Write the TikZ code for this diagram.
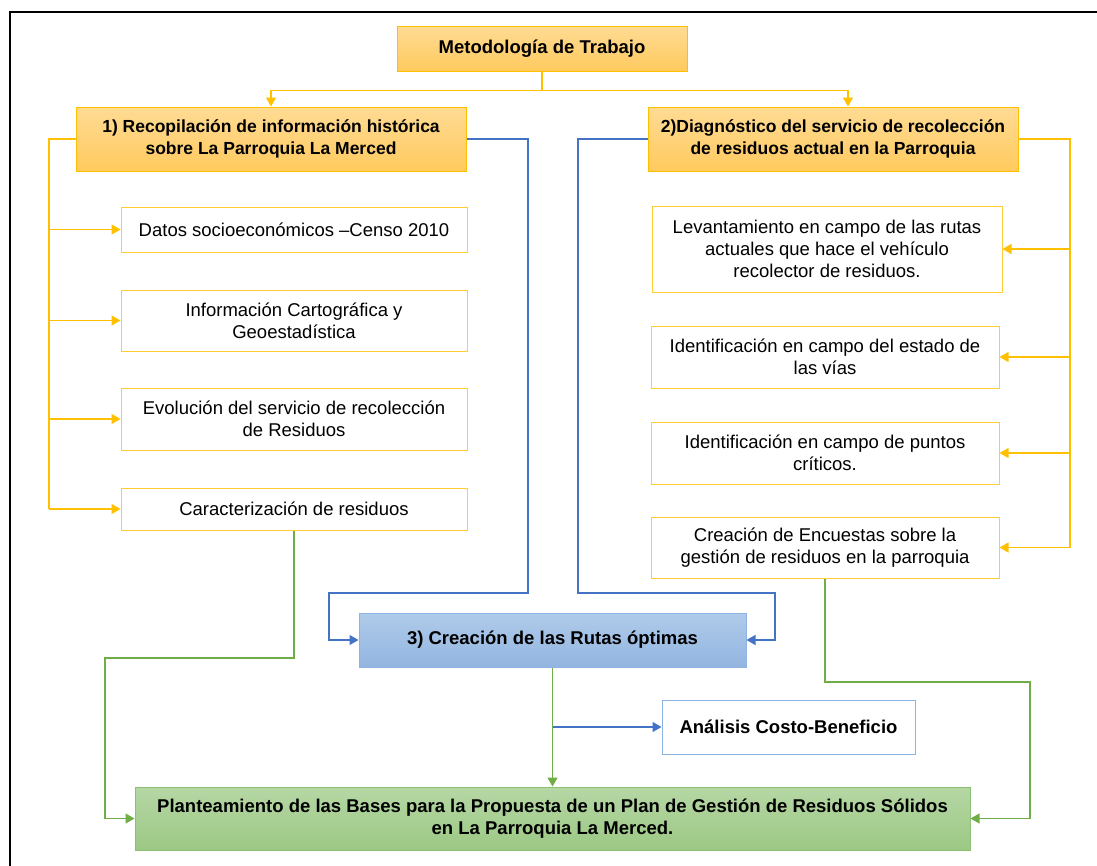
\documentclass[tikz,border=0pt]{standalone}
\usepackage{fontspec}
\setmainfont{Liberation Sans}
\usepackage{tikz}
\usetikzlibrary{arrows.meta, positioning}
\usepackage{xcolor}

\definecolor{ambar}{HTML}{FFC000}
\definecolor{ambartop}{HTML}{FFDB94}
\definecolor{ambarbot}{HTML}{FFCA5E}
\definecolor{azul}{HTML}{4472C4}
\definecolor{azulborde}{HTML}{8DB3E2}
\definecolor{azultop}{HTML}{B0CBEA}
\definecolor{azulbot}{HTML}{92B5E0}
\definecolor{verde}{HTML}{70AD47}
\definecolor{verdeborde}{HTML}{8CC175}
\definecolor{verdetop}{HTML}{B6D7A5}
\definecolor{verdebot}{HTML}{9CC884}

\newcommand{\boxfont}{\fontsize{18.5}{22}\selectfont}
\newcommand{\phasefont}{\fontsize{17.5}{22}\selectfont}

\begin{document}
\begin{tikzpicture}[
  x=1pt, y=-1pt,
  head/.style={rectangle, draw=ambar, line width=1pt, top color=ambartop, bottom color=ambarbot, inner sep=0pt, align=center, font=\boxfont\bfseries},
  phase/.style={head, font=\phasefont\bfseries},
  task/.style={rectangle, draw=ambar!80, line width=1pt, fill=white, inner sep=0pt, align=center, font=\boxfont},
  routes/.style={rectangle, draw=azulborde, line width=1pt, top color=azultop, bottom color=azulbot, inner sep=0pt, align=center, font=\boxfont\bfseries},
  result/.style={rectangle, draw=azulborde, line width=1pt, fill=white, inner sep=0pt, align=center, font=\boxfont\bfseries},
  finalbox/.style={rectangle, draw=verdeborde, line width=1pt, top color=verdetop, bottom color=verdebot, inner sep=0pt, align=center, font=\boxfont\bfseries},
  yline/.style={draw=ambar, line width=1.2pt},
  yarrow/.style={yline, -{Triangle[length=9pt,width=10pt]}},
  barrow/.style={draw=azul, line width=1.2pt, -{Triangle[length=9pt,width=10pt]}},
  garrow/.style={draw=verde, line width=1.2pt, -{Triangle[length=9pt,width=10pt]}}
]
\useasboundingbox (0,0) rectangle (1097,865);

% Frame
\draw[line width=2pt] (10,870) -- (10,12) -- (1100,12);

% Top layer - Methodology
\node[head, minimum width=290pt, minimum height=45pt] (meto) at (542,48.5) {Metodología de Trabajo};

% Second layer - Phases 1 and 2
\node[phase, minimum width=390pt, minimum height=64pt] (recop) at (271,139) {1) Recopilación de información histórica\\sobre La Parroquia La Merced};
\node[phase, minimum width=370pt, minimum height=64pt] (diag) at (833,139) {2)Diagnóstico del servicio de recolección\\de residuos actual en la Parroquia};

% Left column - Historical information
\node[task, minimum width=346pt, minimum height=45pt] (datos) at (294,229.5) {Datos socioeconómicos –Censo 2010};
\node[task, minimum width=346pt, minimum height=61pt] (carto) at (294,320.5) {Información Cartográfica y\\Geoestadística};
\node[task, minimum width=346pt, minimum height=62pt] (evol) at (294,419) {Evolución del servicio de recolección\\de Residuos};
\node[task, minimum width=346pt, minimum height=42pt] (carac) at (294,509) {Caracterización de residuos};

% Right column - Diagnosis
\node[task, minimum width=350pt, minimum height=86pt] (levan) at (827,249) {Levantamiento en campo de las rutas\\actuales que hace el vehículo\\recolector de residuos.};
\node[task, minimum width=348pt, minimum height=62pt] (vias) at (825,357) {Identificación en campo del estado de\\las vías};
\node[task, minimum width=348pt, minimum height=62pt] (puntos) at (825,453) {Identificación en campo de puntos\\críticos.};
\node[task, minimum width=348pt, minimum height=61pt] (encu) at (825,547.5) {Creación de Encuestas sobre la\\gestión de residuos en la parroquia};

% Third layer - Optimal routes
\node[routes, minimum width=387pt, minimum height=54pt] (rutas) at (552.5,640) {3) Creación de las Rutas óptimas};
\node[result, minimum width=253pt, minimum height=54pt] (costo) at (788.5,727) {Análisis Costo-Beneficio};

% Bottom layer - Final proposal
\node[finalbox, minimum width=835pt, minimum height=63pt] (plan) at (552.5,818.5) {Planteamiento de las Bases para la Propuesta de un Plan de Gestión de Residuos Sólidos\\en La Parroquia La Merced.};

% Bend points
\coordinate (lbus) at (49,509);
\coordinate (rbus) at (1070,548);
\coordinate (bl1) at (528,593);
\coordinate (bl2) at (329,640);
\coordinate (br1) at (578,593);
\coordinate (br2) at (775,640);
\coordinate (gl) at (105,658);
\coordinate (gr) at (1030,682);

% Methodology to phases
\draw[yarrow] (meto.south) -- ++(0,19) -| (recop.north);
\draw[yarrow] (meto.south) -- ++(0,19) -| ([xshift=15pt]diag.north);

% Phase 1 tasks
\draw[yline] (recop.west) -| (lbus);
\foreach \n in {datos,carto,evol,carac}
  \draw[yarrow] (\n.west -| lbus) -- (\n.west);

% Phase 2 tasks
\draw[yline] (diag.east) -| (rbus);
\foreach \n in {levan,vias,puntos,encu}
  \draw[yarrow] (\n.east -| rbus) -- (\n.east);

% Phases into optimal routes
\draw[barrow] (recop.east) -| (bl1) -| (bl2) -- (rutas.west);
\draw[barrow] (diag.west) -| (br1) -| (br2) -- (rutas.east);

% Into the final proposal
\draw[garrow] (carac.south) |- (gl) |- (plan.west);
\draw[garrow] (encu.south) |- (gr) |- (plan.east);
\draw[garrow] (rutas.south) -- (plan.north);
\draw[barrow] (rutas.south |- costo.west) -- (costo.west);

\end{tikzpicture}
\end{document}
